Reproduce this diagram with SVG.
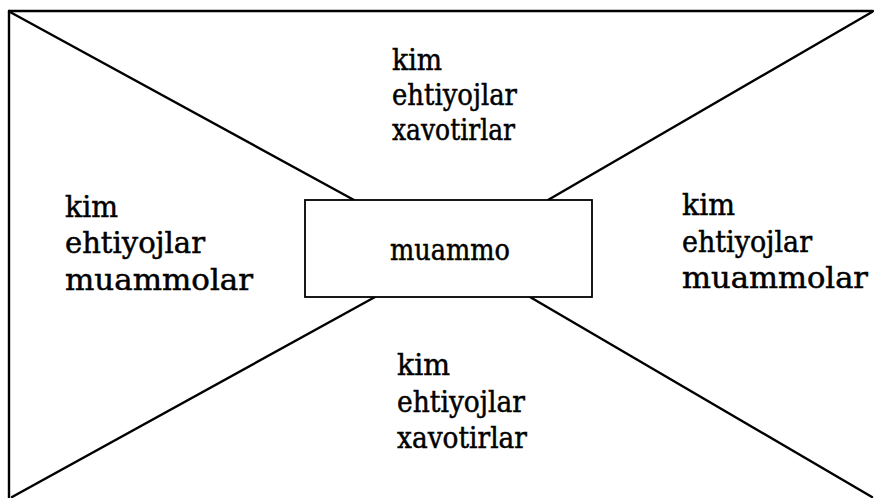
<svg xmlns="http://www.w3.org/2000/svg" width="874" height="498" viewBox="0 0 874 498">
<style>
.ln{stroke:#000;stroke-width:2.4;fill:none;stroke-linecap:round}
.bx{stroke:#000;stroke-width:1.8;fill:#fff}
.t{font-family:"DejaVu Serif","Liberation Serif",serif;font-size:29px;fill:#000;stroke:#000;stroke-width:0.5}
</style>
<rect width="874" height="498" fill="#fff"/>
<g id="connectors">
<line class="ln" x1="9" y1="11" x2="873" y2="11"/>
<line class="ln" x1="9" y1="11" x2="9" y2="498"/>
<line class="ln" x1="10" y1="12" x2="354" y2="200"/>
<line class="ln" x1="872" y1="12" x2="548" y2="200"/>
<line class="ln" x1="12" y1="497" x2="375" y2="297"/>
<line class="ln" x1="872" y1="497" x2="530" y2="297"/>
</g>
<g id="top">
<text class="t" x="392" y="70" textLength="50" lengthAdjust="spacingAndGlyphs">kim</text>
<text class="t" x="392" y="105" textLength="125" lengthAdjust="spacingAndGlyphs">ehtiyojlar</text>
<text class="t" x="392" y="140" textLength="123" lengthAdjust="spacingAndGlyphs">xavotirlar</text>
</g>
<g id="left">
<text class="t" x="65" y="217" textLength="53" lengthAdjust="spacingAndGlyphs">kim</text>
<text class="t" x="65" y="253" textLength="140" lengthAdjust="spacingAndGlyphs">ehtiyojlar</text>
<text class="t" x="65" y="290" textLength="188" lengthAdjust="spacingAndGlyphs">muammolar</text>
</g>
<g id="right">
<text class="t" x="682" y="215" textLength="53" lengthAdjust="spacingAndGlyphs">kim</text>
<text class="t" x="682" y="252" textLength="130" lengthAdjust="spacingAndGlyphs">ehtiyojlar</text>
<text class="t" x="682" y="288" textLength="186" lengthAdjust="spacingAndGlyphs">muammolar</text>
</g>
<g id="bottom">
<text class="t" x="397" y="375" textLength="53" lengthAdjust="spacingAndGlyphs">kim</text>
<text class="t" x="397" y="412" textLength="128" lengthAdjust="spacingAndGlyphs">ehtiyojlar</text>
<text class="t" x="397" y="448" textLength="130" lengthAdjust="spacingAndGlyphs">xavotirlar</text>
</g>
<g id="center">
<rect class="bx" x="305" y="200" width="287" height="97"/>
<text class="t" x="390" y="260" textLength="120" lengthAdjust="spacingAndGlyphs">muammo</text>
</g>
</svg>
